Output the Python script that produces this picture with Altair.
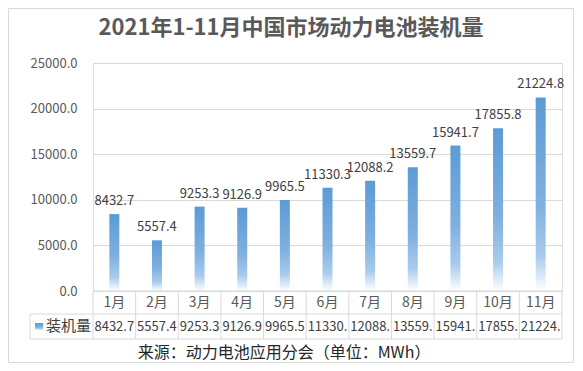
import altair as alt
import pandas as pd

months = ["1月", "2月", "3月", "4月", "5月", "6月", "7月", "8月", "9月", "10月", "11月"]
values = [8432.7, 5557.4, 9253.3, 9126.9, 9965.5, 11330.3, 12088.2, 13559.7, 15941.7, 17855.8, 21224.8]
series_name = "装机量"
title_text = "2021年1-11月中国市场动力电池装机量"
source_text = "来源：动力电池应用分会（单位：MWh）"
y_ticks = [0, 5000, 10000, 15000, 20000, 25000]

df = pd.DataFrame({
    "month": months,
    "value": values,
    "label": [f"{v:.1f}" for v in values],
    "cell": [f"{v:.1f}"[:6] for v in values],
})
one = pd.DataFrame({"k": [0]})

W, H = 469, 228
FONT = "Noto Sans CJK SC"
GRID = "#D9D9D9"

grad = alt.Gradient(
    gradient="linear",
    stops=[
        alt.GradientStop(color="#5B9BD5", offset=0),
        alt.GradientStop(color="#7FB0E0", offset=0.55),
        alt.GradientStop(color="#A9CBEC", offset=0.82),
        alt.GradientStop(color="#FFFFFF", offset=1),
    ],
    x1=0, x2=0, y1=0, y2=1,
)

xs = alt.X("month:N", sort=months, axis=None,
           scale=alt.Scale(paddingInner=0, paddingOuter=0))
ys = alt.Y("value:Q", scale=alt.Scale(domain=[0, 25000], nice=False),
           axis=alt.Axis(values=y_ticks, format=".1f", title=None, ticks=False,
                         domain=False, labelPadding=16, labelFontSize=13,
                         labelColor="#595959", gridColor=GRID, labelFont=FONT))

base = alt.Chart(df)

bars = base.mark_bar(size=10, color=grad).encode(x=xs, y=ys)
bar_labels = base.mark_text(dy=-9, fontSize=13, color="#404040", font=FONT,
                            baseline="alphabetic").encode(x=xs, y="value:Q", text="label:N")

month_text = base.mark_text(fontSize=14, color="#595959", font=FONT, baseline="middle").encode(
    x=xs, y=alt.value(240), text="month:N")
cell_text = base.mark_text(fontSize=13, color="#404040", font=FONT, baseline="middle").encode(
    x=xs, y=alt.value(264), text="cell:N")

vlines = base.mark_rule(color=GRID, strokeWidth=1).encode(
    x=alt.X("month:N", sort=months, bandPosition=0, axis=None),
    y=alt.value(228), y2=alt.value(276))

oc = alt.Chart(one)
right_line = oc.mark_rule(color=GRID).encode(x=alt.value(W), y=alt.value(228), y2=alt.value(276))
leg_left = oc.mark_rule(color=GRID).encode(x=alt.value(-63), y=alt.value(251), y2=alt.value(276))
top_line = oc.mark_rule(color=GRID).encode(x=alt.value(0), x2=alt.value(W), y=alt.value(228))
mid_line = oc.mark_rule(color=GRID).encode(x=alt.value(-63), x2=alt.value(W), y=alt.value(251))
bot_line = oc.mark_rule(color=GRID).encode(x=alt.value(-63), x2=alt.value(W), y=alt.value(276))

swatch = oc.mark_rect(color=grad).encode(
    x=alt.value(-58), x2=alt.value(-50), y=alt.value(260), y2=alt.value(267))
leg_text = oc.mark_text(align="left", baseline="middle", fontSize=15, color="#404040",
                        font=FONT).encode(x=alt.value(-47), y=alt.value(263),
                                          text=alt.value(series_name))

title = oc.mark_text(align="center", baseline="middle", fontSize=22, fontWeight="bold",
                     color="#595959", font=FONT).encode(
    x=alt.value(198), y=alt.value(-35), text=alt.value(title_text))
source = oc.mark_text(align="center", baseline="middle", fontSize=16, color="#262626",
                      font=FONT).encode(
    x=alt.value(191), y=alt.value(290), text=alt.value(source_text))

border = oc.mark_rect(fill=None, stroke=GRID, strokeWidth=1).encode(
    x=alt.value(-84.5), x2=alt.value(W + 11.5), y=alt.value(-54.5), y2=alt.value(H + 71.5))

chart = alt.layer(
    border, bars, bar_labels, month_text, cell_text, vlines, right_line, leg_left,
    top_line, mid_line, bot_line, swatch, leg_text, title, source
).properties(
    width=W, height=H,
    autosize=alt.AutoSizeParams(type="none"),
    padding={"left": 85, "top": 55, "right": 13, "bottom": 72},
).configure_view(stroke=None).configure(font=FONT)

chart.save("out.html", embed_options={"renderer": "svg", "actions": False})
